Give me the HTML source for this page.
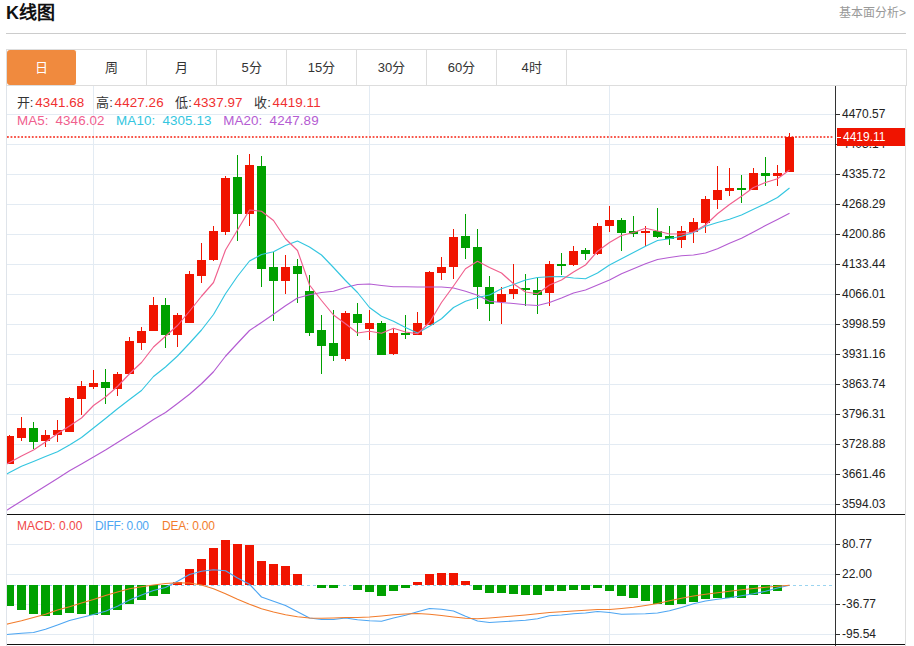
<!DOCTYPE html>
<html lang="zh-CN">
<head>
<meta charset="utf-8">
<title>K线图</title>
<style>
html,body{margin:0;padding:0;background:#fff;}
body{width:914px;height:646px;overflow:hidden;position:relative;font-family:"Liberation Sans",sans-serif;color:#333;}
.title{position:absolute;left:6px;top:0.5px;font-size:18px;font-weight:bold;color:#111;line-height:24px;white-space:nowrap;}
.more{position:absolute;right:8px;top:5px;font-size:12px;color:#999;line-height:16px;white-space:nowrap;}
.sep{position:absolute;left:6px;top:33px;width:900px;height:1px;background:#ccc;}
.tabs{position:absolute;left:6px;top:49px;width:899px;height:35px;border:1px solid #ddd;box-sizing:content-box;}
.tab{position:absolute;top:0;width:69px;height:35px;border-right:1px solid #ddd;font-size:13px;line-height:36px;text-align:center;color:#333;}
.tab.on{background:#f08a3e;color:#fff;border-right:1px solid #fff;border-radius:3px;}
svg{position:absolute;left:0;top:0;}
.nf text{font-family:"Liberation Sans",sans-serif;font-size:13.4px;letter-spacing:0.1px;}
.nf text.cj{font-size:13px;fill:#333;}
.ax{font-family:"Liberation Sans",sans-serif;font-size:12px;fill:#222;}
.info{position:absolute;left:17px;font-size:13px;line-height:16px;white-space:nowrap;}
.info span{position:absolute;top:0;}
</style>
</head>
<body>
<div class="title">K线图</div>
<div class="more">基本面分析&gt;</div>
<div class="sep"></div>
<div class="tabs">
<div class="tab on" style="left:0">日</div>
<div class="tab" style="left:70px">周</div>
<div class="tab" style="left:140px">月</div>
<div class="tab" style="left:210px">5分</div>
<div class="tab" style="left:280px">15分</div>
<div class="tab" style="left:350px">30分</div>
<div class="tab" style="left:420px">60分</div>
<div class="tab" style="left:490px">4时</div>
</div>
<svg width="914" height="646" viewBox="0 0 914 646">
<defs><clipPath id="cp"><rect x="7" y="86" width="828" height="560"/></clipPath></defs>
<!-- frame -->
<rect x="6" y="86" width="1" height="560" fill="#dfe4ea"/>
<rect x="905" y="86" width="1" height="560" fill="#ddd"/>
<rect x="7" y="114" width="828" height="1" fill="#e3ebf3"/>
<rect x="7" y="144" width="828" height="1" fill="#e3ebf3"/>
<rect x="7" y="174" width="828" height="1" fill="#e3ebf3"/>
<rect x="7" y="204" width="828" height="1" fill="#e3ebf3"/>
<rect x="7" y="234" width="828" height="1" fill="#e3ebf3"/>
<rect x="7" y="264" width="828" height="1" fill="#e3ebf3"/>
<rect x="7" y="294" width="828" height="1" fill="#e3ebf3"/>
<rect x="7" y="324" width="828" height="1" fill="#e3ebf3"/>
<rect x="7" y="354" width="828" height="1" fill="#e3ebf3"/>
<rect x="7" y="384" width="828" height="1" fill="#e3ebf3"/>
<rect x="7" y="414" width="828" height="1" fill="#e3ebf3"/>
<rect x="7" y="444" width="828" height="1" fill="#e3ebf3"/>
<rect x="7" y="474" width="828" height="1" fill="#e3ebf3"/>
<rect x="7" y="504" width="828" height="1" fill="#e3ebf3"/>
<rect x="7" y="544" width="828" height="1" fill="#e3ebf3"/>
<rect x="7" y="574" width="828" height="1" fill="#e3ebf3"/>
<rect x="7" y="604" width="828" height="1" fill="#e3ebf3"/>
<rect x="7" y="634" width="828" height="1" fill="#e3ebf3"/>
<rect x="93" y="86" width="1" height="559" fill="#e3ebf3"/>
<rect x="369" y="86" width="1" height="559" fill="#e3ebf3"/>
<rect x="609" y="86" width="1" height="559" fill="#e3ebf3"/>
<g clip-path="url(#cp)">
<!-- last price dotted line -->
<line x1="7" y1="137" x2="833.5" y2="137" stroke="#f8564a" stroke-width="1.8" stroke-dasharray="1.8 1.75"/>
<!-- candles -->
<g shape-rendering="crispEdges">
<rect x="9" y="435.0" width="1" height="29.25" fill="#f01400"/>
<rect x="5" y="436.25" width="9" height="28.0" fill="#f01400"/>
<rect x="21" y="416.5" width="1" height="24.0" fill="#f01400"/>
<rect x="17" y="428.25" width="9" height="9.25" fill="#f01400"/>
<rect x="33" y="421.5" width="1" height="27.75" fill="#00a000"/>
<rect x="29" y="427.5" width="9" height="14.25" fill="#00a000"/>
<rect x="45" y="429.5" width="1" height="17.5" fill="#f01400"/>
<rect x="41" y="435.25" width="9" height="5.75" fill="#f01400"/>
<rect x="57" y="420.0" width="1" height="21.5" fill="#f01400"/>
<rect x="53" y="430.0" width="9" height="5.0" fill="#f01400"/>
<rect x="69" y="397.0" width="1" height="34.75" fill="#f01400"/>
<rect x="65" y="397.5" width="9" height="34.25" fill="#f01400"/>
<rect x="81" y="380.5" width="1" height="34.5" fill="#f01400"/>
<rect x="77" y="386.25" width="9" height="12.5" fill="#f01400"/>
<rect x="93" y="370.0" width="1" height="18.75" fill="#f01400"/>
<rect x="89" y="383.25" width="9" height="4.0" fill="#f01400"/>
<rect x="105" y="369.25" width="1" height="34.5" fill="#00a000"/>
<rect x="101" y="382.25" width="9" height="5.75" fill="#00a000"/>
<rect x="117" y="371.75" width="1" height="24.0" fill="#f01400"/>
<rect x="113" y="374.25" width="9" height="14.25" fill="#f01400"/>
<rect x="129" y="337.0" width="1" height="37.0" fill="#f01400"/>
<rect x="125" y="340.75" width="9" height="33.25" fill="#f01400"/>
<rect x="141" y="327.0" width="1" height="23.0" fill="#f01400"/>
<rect x="137" y="330.5" width="9" height="12.0" fill="#f01400"/>
<rect x="153" y="297.0" width="1" height="34.0" fill="#f01400"/>
<rect x="149" y="305.0" width="9" height="26.0" fill="#f01400"/>
<rect x="165" y="297.5" width="1" height="50.5" fill="#00a000"/>
<rect x="161" y="305.0" width="9" height="29.75" fill="#00a000"/>
<rect x="177" y="313.0" width="1" height="34.0" fill="#f01400"/>
<rect x="173" y="315.25" width="9" height="19.5" fill="#f01400"/>
<rect x="189" y="271.0" width="1" height="51.5" fill="#f01400"/>
<rect x="185" y="274.0" width="9" height="48.5" fill="#f01400"/>
<rect x="201" y="243.25" width="1" height="39.75" fill="#f01400"/>
<rect x="197" y="260.25" width="9" height="15.25" fill="#f01400"/>
<rect x="213" y="226.25" width="1" height="35.0" fill="#f01400"/>
<rect x="209" y="231.0" width="9" height="29.25" fill="#f01400"/>
<rect x="225" y="176.25" width="1" height="58.75" fill="#f01400"/>
<rect x="221" y="178.0" width="9" height="53.75" fill="#f01400"/>
<rect x="237" y="154.5" width="1" height="86.25" fill="#00a000"/>
<rect x="233" y="177.0" width="9" height="37.25" fill="#00a000"/>
<rect x="249" y="153.75" width="1" height="72.5" fill="#f01400"/>
<rect x="245" y="165.0" width="9" height="49.0" fill="#f01400"/>
<rect x="261" y="156.25" width="1" height="130.75" fill="#00a000"/>
<rect x="257" y="166.0" width="9" height="103.0" fill="#00a000"/>
<rect x="273" y="251.75" width="1" height="69.5" fill="#00a000"/>
<rect x="269" y="267.25" width="9" height="13.25" fill="#00a000"/>
<rect x="285" y="254.5" width="1" height="39.5" fill="#f01400"/>
<rect x="281" y="267.25" width="9" height="13.75" fill="#f01400"/>
<rect x="297" y="259.25" width="1" height="44.0" fill="#00a000"/>
<rect x="293" y="266.0" width="9" height="8.0" fill="#00a000"/>
<rect x="309" y="275.0" width="1" height="61.0" fill="#00a000"/>
<rect x="305" y="290.5" width="9" height="42.25" fill="#00a000"/>
<rect x="321" y="314.5" width="1" height="59.5" fill="#00a000"/>
<rect x="317" y="329.5" width="9" height="16.0" fill="#00a000"/>
<rect x="333" y="310.0" width="1" height="50.75" fill="#00a000"/>
<rect x="329" y="343.25" width="9" height="12.25" fill="#00a000"/>
<rect x="345" y="311.25" width="1" height="49.5" fill="#f01400"/>
<rect x="341" y="312.75" width="9" height="46.0" fill="#f01400"/>
<rect x="357" y="303.0" width="1" height="32.75" fill="#00a000"/>
<rect x="353" y="314.25" width="9" height="8.75" fill="#00a000"/>
<rect x="369" y="310.0" width="1" height="30.0" fill="#f01400"/>
<rect x="365" y="323.0" width="9" height="6.25" fill="#f01400"/>
<rect x="381" y="321.25" width="1" height="33.5" fill="#00a000"/>
<rect x="377" y="323.0" width="9" height="31.75" fill="#00a000"/>
<rect x="393" y="328.0" width="1" height="27.0" fill="#f01400"/>
<rect x="389" y="333.0" width="9" height="21.0" fill="#f01400"/>
<rect x="405" y="315.0" width="1" height="24.0" fill="#00a000"/>
<rect x="401" y="333.0" width="9" height="2.0" fill="#00a000"/>
<rect x="417" y="311.5" width="1" height="23.5" fill="#f01400"/>
<rect x="413" y="323.0" width="9" height="11.5" fill="#f01400"/>
<rect x="429" y="271.25" width="1" height="53.75" fill="#f01400"/>
<rect x="425" y="272.0" width="9" height="53.0" fill="#f01400"/>
<rect x="441" y="257.0" width="1" height="23.25" fill="#f01400"/>
<rect x="437" y="267.25" width="9" height="5.25" fill="#f01400"/>
<rect x="453" y="229.25" width="1" height="50.0" fill="#f01400"/>
<rect x="449" y="236.5" width="9" height="30.75" fill="#f01400"/>
<rect x="465" y="214.25" width="1" height="44.5" fill="#00a000"/>
<rect x="461" y="236.0" width="9" height="12.0" fill="#00a000"/>
<rect x="477" y="229.25" width="1" height="79.75" fill="#00a000"/>
<rect x="473" y="247.25" width="9" height="39.25" fill="#00a000"/>
<rect x="489" y="276.25" width="1" height="44.25" fill="#00a000"/>
<rect x="485" y="287.0" width="9" height="17.0" fill="#00a000"/>
<rect x="501" y="287.0" width="1" height="37.25" fill="#f01400"/>
<rect x="497" y="293.5" width="9" height="8.5" fill="#f01400"/>
<rect x="513" y="264.25" width="1" height="34.5" fill="#f01400"/>
<rect x="509" y="289.25" width="9" height="4.75" fill="#f01400"/>
<rect x="525" y="274.0" width="1" height="32.25" fill="#00a000"/>
<rect x="521" y="288.0" width="9" height="2.0" fill="#00a000"/>
<rect x="537" y="278.25" width="1" height="35.25" fill="#00a000"/>
<rect x="533" y="289.5" width="9" height="5.5" fill="#00a000"/>
<rect x="549" y="260.75" width="1" height="45.0" fill="#f01400"/>
<rect x="545" y="263.5" width="9" height="29.75" fill="#f01400"/>
<rect x="561" y="252.5" width="1" height="22.5" fill="#00a000"/>
<rect x="557" y="264.25" width="9" height="2.0" fill="#00a000"/>
<rect x="573" y="246.25" width="1" height="19.5" fill="#f01400"/>
<rect x="569" y="250.75" width="9" height="14.25" fill="#f01400"/>
<rect x="585" y="248.0" width="1" height="12.0" fill="#00a000"/>
<rect x="581" y="250.25" width="9" height="4.0" fill="#00a000"/>
<rect x="597" y="222.5" width="1" height="32.5" fill="#f01400"/>
<rect x="593" y="226.0" width="9" height="28.0" fill="#f01400"/>
<rect x="609" y="205.5" width="1" height="26.5" fill="#f01400"/>
<rect x="605" y="220.0" width="9" height="5.5" fill="#f01400"/>
<rect x="621" y="218.25" width="1" height="32.5" fill="#00a000"/>
<rect x="617" y="220.0" width="9" height="12.75" fill="#00a000"/>
<rect x="633" y="216.0" width="1" height="21.0" fill="#00a000"/>
<rect x="629" y="231.0" width="9" height="2.75" fill="#00a000"/>
<rect x="645" y="225.75" width="1" height="19.75" fill="#f01400"/>
<rect x="641" y="230.75" width="9" height="2.25" fill="#f01400"/>
<rect x="657" y="208.0" width="1" height="30.25" fill="#00a000"/>
<rect x="653" y="231.0" width="9" height="6.0" fill="#00a000"/>
<rect x="669" y="226.25" width="1" height="18.75" fill="#00a000"/>
<rect x="665" y="236.0" width="9" height="3.25" fill="#00a000"/>
<rect x="681" y="225.5" width="1" height="22.5" fill="#f01400"/>
<rect x="677" y="231.25" width="9" height="8.5" fill="#f01400"/>
<rect x="693" y="217.5" width="1" height="25.0" fill="#f01400"/>
<rect x="689" y="222.25" width="9" height="9.5" fill="#f01400"/>
<rect x="705" y="196.25" width="1" height="36.25" fill="#f01400"/>
<rect x="701" y="199.25" width="9" height="23.5" fill="#f01400"/>
<rect x="717" y="166.25" width="1" height="42.5" fill="#f01400"/>
<rect x="713" y="190.25" width="9" height="9.25" fill="#f01400"/>
<rect x="729" y="167.5" width="1" height="28.75" fill="#f01400"/>
<rect x="725" y="188.25" width="9" height="2.5" fill="#f01400"/>
<rect x="741" y="174.5" width="1" height="28.25" fill="#00a000"/>
<rect x="737" y="187.5" width="9" height="2.5" fill="#00a000"/>
<rect x="753" y="168.25" width="1" height="21.25" fill="#f01400"/>
<rect x="749" y="173.25" width="9" height="16.25" fill="#f01400"/>
<rect x="765" y="156.75" width="1" height="29.0" fill="#00a000"/>
<rect x="761" y="172.5" width="9" height="3.25" fill="#00a000"/>
<rect x="777" y="165.0" width="1" height="20.75" fill="#f01400"/>
<rect x="773" y="173.25" width="9" height="2.5" fill="#f01400"/>
<rect x="789" y="133.25" width="1" height="39.0" fill="#f01400"/>
<rect x="785" y="137.0" width="9" height="35.25" fill="#f01400"/>
</g>
<polyline points="-2.5,516.00 9.5,508.50 21.5,501.00 33.5,493.50 45.5,486.00 57.5,478.50 69.5,470.75 81.5,464.00 93.5,457.00 105.5,450.00 117.5,442.50 129.5,435.00 141.5,427.50 153.5,419.50 165.5,412.50 177.5,403.50 189.5,394.25 201.5,383.75 213.5,371.75 225.5,356.25 237.5,343.25 249.5,330.50 261.5,322.50 273.5,314.25 285.5,305.75 297.5,298.00 309.5,294.75 321.5,292.50 333.5,291.25 345.5,287.50 357.5,284.50 369.5,284.00 381.5,285.50 393.5,286.75 405.5,286.75 417.5,287.00 429.5,287.00 441.5,287.00 453.5,288.00 465.5,291.25 477.5,295.25 489.5,301.25 501.5,302.50 513.5,303.50 525.5,304.75 537.5,305.50 549.5,302.50 561.5,298.00 573.5,293.00 585.5,290.00 597.5,285.00 609.5,280.00 621.5,273.75 633.5,268.75 645.5,263.75 657.5,259.50 669.5,257.50 681.5,255.75 693.5,255.00 705.5,253.00 717.5,248.75 729.5,243.25 741.5,238.25 753.5,232.00 765.5,225.50 777.5,219.50 789.5,213.25" fill="none" stroke="#b45cd2" stroke-width="1.15" stroke-linejoin="round"/>
<polyline points="-2.5,478.75 9.5,472.50 21.5,466.25 33.5,461.50 45.5,456.50 57.5,451.75 69.5,445.00 81.5,437.50 93.5,428.00 105.5,418.50 117.5,408.75 129.5,399.50 141.5,390.50 153.5,376.50 165.5,367.00 177.5,356.00 189.5,343.25 201.5,330.00 213.5,314.50 225.5,293.75 237.5,276.25 249.5,261.00 261.5,254.50 273.5,251.75 285.5,245.50 297.5,241.00 309.5,247.00 321.5,255.00 333.5,267.50 345.5,280.50 357.5,292.50 369.5,307.50 381.5,316.25 393.5,321.25 405.5,327.50 417.5,333.00 429.5,326.25 441.5,318.75 453.5,307.50 465.5,301.25 477.5,297.50 489.5,295.00 501.5,288.75 513.5,284.50 525.5,280.00 537.5,277.50 549.5,276.75 561.5,276.50 573.5,278.00 585.5,278.75 597.5,273.00 609.5,265.00 621.5,258.75 633.5,252.50 645.5,246.25 657.5,240.50 669.5,238.75 681.5,236.25 693.5,232.50 705.5,226.25 717.5,222.50 729.5,219.25 741.5,215.00 753.5,209.25 765.5,203.75 777.5,197.50 789.5,188.00" fill="none" stroke="#34c6e0" stroke-width="1.15" stroke-linejoin="round"/>
<polyline points="-2.5,469.00 9.5,462.50 21.5,456.00 33.5,450.00 45.5,442.00 57.5,433.75 69.5,426.00 81.5,418.00 93.5,405.50 105.5,397.00 117.5,386.50 129.5,373.75 141.5,362.50 153.5,347.00 165.5,336.25 177.5,325.50 189.5,311.25 201.5,296.25 213.5,282.50 225.5,250.00 237.5,230.00 249.5,210.00 261.5,211.25 273.5,220.50 285.5,238.75 297.5,250.50 309.5,285.00 321.5,300.50 333.5,315.00 345.5,323.75 357.5,333.00 369.5,331.25 381.5,333.25 393.5,328.25 405.5,332.00 417.5,333.75 429.5,322.50 441.5,302.50 453.5,286.00 465.5,268.75 477.5,261.25 489.5,267.50 501.5,273.00 513.5,283.75 525.5,292.00 537.5,293.75 549.5,285.00 561.5,280.00 573.5,272.00 585.5,265.00 597.5,251.25 609.5,242.50 621.5,235.50 633.5,232.50 645.5,228.25 657.5,231.00 669.5,234.00 681.5,233.75 693.5,232.00 705.5,225.00 717.5,213.75 729.5,204.50 741.5,196.25 753.5,187.50 765.5,182.50 777.5,178.75 789.5,170.00" fill="none" stroke="#f0608e" stroke-width="1.15" stroke-linejoin="round"/>
<!-- macd -->
<line x1="7" y1="585.5" x2="833" y2="585.5" stroke="#9ad4f0" stroke-width="1" stroke-dasharray="3 3"/>
<g shape-rendering="crispEdges">
<rect x="5" y="585" width="9" height="21" fill="#00a000"/>
<rect x="17" y="585" width="9" height="25" fill="#00a000"/>
<rect x="29" y="585" width="9" height="29" fill="#00a000"/>
<rect x="41" y="585" width="9" height="31" fill="#00a000"/>
<rect x="53" y="585" width="9" height="30" fill="#00a000"/>
<rect x="65" y="585" width="9" height="28" fill="#00a000"/>
<rect x="77" y="585" width="9" height="29" fill="#00a000"/>
<rect x="89" y="585" width="9" height="30" fill="#00a000"/>
<rect x="101" y="585" width="9" height="30" fill="#00a000"/>
<rect x="113" y="585" width="9" height="25" fill="#00a000"/>
<rect x="125" y="585" width="9" height="19" fill="#00a000"/>
<rect x="137" y="585" width="9" height="15" fill="#00a000"/>
<rect x="149" y="585" width="9" height="11" fill="#00a000"/>
<rect x="161" y="585" width="9" height="9" fill="#00a000"/>
<rect x="173" y="582" width="9" height="3" fill="#f01400"/>
<rect x="185" y="569" width="9" height="16" fill="#f01400"/>
<rect x="197" y="559" width="9" height="26" fill="#f01400"/>
<rect x="209" y="548" width="9" height="37" fill="#f01400"/>
<rect x="221" y="540" width="9" height="45" fill="#f01400"/>
<rect x="233" y="544" width="9" height="41" fill="#f01400"/>
<rect x="245" y="545" width="9" height="40" fill="#f01400"/>
<rect x="257" y="561" width="9" height="24" fill="#f01400"/>
<rect x="269" y="564" width="9" height="21" fill="#f01400"/>
<rect x="281" y="566" width="9" height="19" fill="#f01400"/>
<rect x="293" y="574" width="9" height="11" fill="#f01400"/>
<rect x="317" y="585" width="9" height="3" fill="#00a000"/>
<rect x="329" y="585" width="9" height="3" fill="#00a000"/>
<rect x="353" y="585" width="9" height="5" fill="#00a000"/>
<rect x="365" y="585" width="9" height="7" fill="#00a000"/>
<rect x="377" y="585" width="9" height="11" fill="#00a000"/>
<rect x="389" y="585" width="9" height="6" fill="#00a000"/>
<rect x="401" y="585" width="9" height="3" fill="#00a000"/>
<rect x="413" y="582" width="9" height="3" fill="#f01400"/>
<rect x="425" y="574" width="9" height="11" fill="#f01400"/>
<rect x="437" y="573" width="9" height="12" fill="#f01400"/>
<rect x="449" y="573" width="9" height="12" fill="#f01400"/>
<rect x="461" y="581" width="9" height="4" fill="#f01400"/>
<rect x="473" y="585" width="9" height="5" fill="#00a000"/>
<rect x="485" y="585" width="9" height="8" fill="#00a000"/>
<rect x="497" y="585" width="9" height="8" fill="#00a000"/>
<rect x="509" y="585" width="9" height="9" fill="#00a000"/>
<rect x="521" y="585" width="9" height="10" fill="#00a000"/>
<rect x="533" y="585" width="9" height="10" fill="#00a000"/>
<rect x="545" y="585" width="9" height="6" fill="#00a000"/>
<rect x="557" y="585" width="9" height="6" fill="#00a000"/>
<rect x="569" y="585" width="9" height="5" fill="#00a000"/>
<rect x="581" y="585" width="9" height="5" fill="#00a000"/>
<rect x="593" y="585" width="9" height="3" fill="#00a000"/>
<rect x="605" y="585" width="9" height="6" fill="#00a000"/>
<rect x="617" y="585" width="9" height="11" fill="#00a000"/>
<rect x="629" y="585" width="9" height="13" fill="#00a000"/>
<rect x="641" y="585" width="9" height="16" fill="#00a000"/>
<rect x="653" y="585" width="9" height="19" fill="#00a000"/>
<rect x="665" y="585" width="9" height="20" fill="#00a000"/>
<rect x="677" y="585" width="9" height="19" fill="#00a000"/>
<rect x="689" y="585" width="9" height="17" fill="#00a000"/>
<rect x="701" y="585" width="9" height="14" fill="#00a000"/>
<rect x="713" y="585" width="9" height="13" fill="#00a000"/>
<rect x="725" y="585" width="9" height="13" fill="#00a000"/>
<rect x="737" y="585" width="9" height="13" fill="#00a000"/>
<rect x="749" y="585" width="9" height="10" fill="#00a000"/>
<rect x="761" y="585" width="9" height="9" fill="#00a000"/>
<rect x="773" y="585" width="9" height="6" fill="#00a000"/>
</g>
<polyline points="-2.5,635.25 9.5,634.25 21.5,633.25 33.5,632.50 45.5,629.25 57.5,625.00 69.5,620.50 81.5,617.50 93.5,614.50 105.5,611.25 117.5,606.25 129.5,600.00 141.5,595.00 153.5,590.50 165.5,587.50 177.5,581.25 189.5,574.50 201.5,571.25 213.5,569.75 225.5,570.75 237.5,578.00 249.5,584.25 261.5,597.00 273.5,601.25 285.5,605.50 297.5,611.75 309.5,618.00 321.5,619.50 333.5,619.50 345.5,618.00 357.5,619.75 369.5,620.75 381.5,621.25 393.5,618.00 405.5,615.25 417.5,611.75 429.5,608.50 441.5,609.25 453.5,611.00 465.5,616.25 477.5,621.00 489.5,622.50 501.5,621.75 513.5,621.00 525.5,620.25 537.5,618.75 549.5,615.75 561.5,615.00 573.5,613.75 585.5,613.00 597.5,611.50 609.5,612.50 621.5,614.25 633.5,614.00 645.5,613.75 657.5,613.00 669.5,610.75 681.5,607.50 693.5,603.75 705.5,601.00 717.5,599.25 729.5,597.75 741.5,595.75 753.5,593.75 765.5,591.25 777.5,588.00 789.5,585.25" fill="none" stroke="#4ea6f2" stroke-width="1.15" stroke-linejoin="round"/>
<polyline points="-2.5,626.25 9.5,623.50 21.5,620.75 33.5,617.50 45.5,614.25 57.5,610.00 69.5,606.75 81.5,603.00 93.5,599.50 105.5,595.50 117.5,592.00 129.5,588.75 141.5,586.75 153.5,585.00 165.5,583.50 177.5,582.75 189.5,583.00 201.5,585.00 213.5,588.75 225.5,593.75 237.5,599.25 249.5,604.25 261.5,608.75 273.5,612.00 285.5,614.75 297.5,616.75 309.5,618.00 321.5,618.25 333.5,618.00 345.5,617.50 357.5,617.50 369.5,617.00 381.5,616.00 393.5,614.75 405.5,614.00 417.5,613.50 429.5,614.25 441.5,615.50 453.5,617.00 465.5,618.25 477.5,618.75 489.5,618.00 501.5,617.00 513.5,616.00 525.5,615.00 537.5,613.75 549.5,612.50 561.5,611.75 573.5,611.00 585.5,610.25 597.5,609.50 609.5,609.50 621.5,608.50 633.5,607.25 645.5,605.50 657.5,603.50 669.5,600.75 681.5,598.25 693.5,596.00 705.5,594.25 717.5,592.75 729.5,591.25 741.5,589.75 753.5,588.50 765.5,587.25 777.5,586.25 789.5,585.25" fill="none" stroke="#f27c2c" stroke-width="1.15" stroke-linejoin="round"/>
</g>
<!-- axis -->
<rect x="835" y="86" width="1" height="560" fill="#333"/>
<rect x="835" y="114" width="5" height="1" fill="#333"/>
<text transform="translate(842,118.1) scale(1,1.08)" class="ax">4470.57</text>
<rect x="835" y="144" width="5" height="1" fill="#333"/>
<text transform="translate(842,148.1) scale(1,1.08)" class="ax">4403.14</text>
<rect x="835" y="174" width="5" height="1" fill="#333"/>
<text transform="translate(842,178.1) scale(1,1.08)" class="ax">4335.72</text>
<rect x="835" y="204" width="5" height="1" fill="#333"/>
<text transform="translate(842,208.1) scale(1,1.08)" class="ax">4268.29</text>
<rect x="835" y="234" width="5" height="1" fill="#333"/>
<text transform="translate(842,238.1) scale(1,1.08)" class="ax">4200.86</text>
<rect x="835" y="264" width="5" height="1" fill="#333"/>
<text transform="translate(842,268.1) scale(1,1.08)" class="ax">4133.44</text>
<rect x="835" y="294" width="5" height="1" fill="#333"/>
<text transform="translate(842,298.1) scale(1,1.08)" class="ax">4066.01</text>
<rect x="835" y="324" width="5" height="1" fill="#333"/>
<text transform="translate(842,328.1) scale(1,1.08)" class="ax">3998.59</text>
<rect x="835" y="354" width="5" height="1" fill="#333"/>
<text transform="translate(842,358.1) scale(1,1.08)" class="ax">3931.16</text>
<rect x="835" y="384" width="5" height="1" fill="#333"/>
<text transform="translate(842,388.1) scale(1,1.08)" class="ax">3863.74</text>
<rect x="835" y="414" width="5" height="1" fill="#333"/>
<text transform="translate(842,418.1) scale(1,1.08)" class="ax">3796.31</text>
<rect x="835" y="444" width="5" height="1" fill="#333"/>
<text transform="translate(842,448.1) scale(1,1.08)" class="ax">3728.88</text>
<rect x="835" y="474" width="5" height="1" fill="#333"/>
<text transform="translate(842,478.1) scale(1,1.08)" class="ax">3661.46</text>
<rect x="835" y="504" width="5" height="1" fill="#333"/>
<text transform="translate(842,508.1) scale(1,1.08)" class="ax">3594.03</text>
<rect x="835" y="544" width="5" height="1" fill="#333"/>
<text transform="translate(842,548.1) scale(1,1.08)" class="ax">80.77</text>
<rect x="835" y="574" width="5" height="1" fill="#333"/>
<text transform="translate(842,578.1) scale(1,1.08)" class="ax">22.00</text>
<rect x="835" y="604" width="5" height="1" fill="#333"/>
<text transform="translate(842,608.1) scale(1,1.08)" class="ax">-36.77</text>
<rect x="835" y="634" width="5" height="1" fill="#333"/>
<text transform="translate(842,638.1) scale(1,1.08)" class="ax">-95.54</text>
<rect x="7" y="514" width="898" height="1" fill="#111"/>
<rect x="7" y="644" width="898" height="1" fill="#111"/>
<!-- last price tag -->
<rect x="837" y="128" width="68" height="18" fill="#f01400"/>
<rect x="837" y="137" width="4" height="1" fill="#fff"/>
<text transform="translate(843,141.3) scale(1,1.08)" class="ax" style="fill:#fff">4419.11</text>
<g class="nf">
<text x="16.6" y="107" class="cj">开:</text><text x="35.3" y="107" fill="#f03030">4341.68</text>
<text x="96.2" y="107" class="cj">高:</text><text x="114.6" y="107" fill="#f03030">4427.26</text>
<text x="175.2" y="107" class="cj">低:</text><text x="193.5" y="107" fill="#f03030">4337.97</text>
<text x="254.2" y="107" class="cj">收:</text><text x="272.6" y="107" fill="#f03030">4419.11</text>
<text x="16.9" y="124.7" fill="#f0608e" letter-spacing="0.6">MA5:</text><text x="55.5" y="124.7" fill="#f0608e">4346.02</text>
<text x="116.1" y="124.7" fill="#34c6e0" letter-spacing="0.6">MA10:</text><text x="162.4" y="124.7" fill="#34c6e0">4305.13</text>
<text x="223.2" y="124.7" fill="#b45cd2" letter-spacing="0.6">MA20:</text><text x="269.6" y="124.7" fill="#b45cd2">4247.89</text>
</g>
<!-- macd legend -->
<text x="17" y="530" class="ax" style="fill:#f04848">MACD: 0.00</text>
<text x="95" y="530" class="ax" style="fill:#4ea6f2" textLength="54">DIFF: 0.00</text>
<text x="162" y="530" class="ax" style="fill:#f27c2c" textLength="53">DEA: 0.00</text>
</svg>
</body>
</html>
